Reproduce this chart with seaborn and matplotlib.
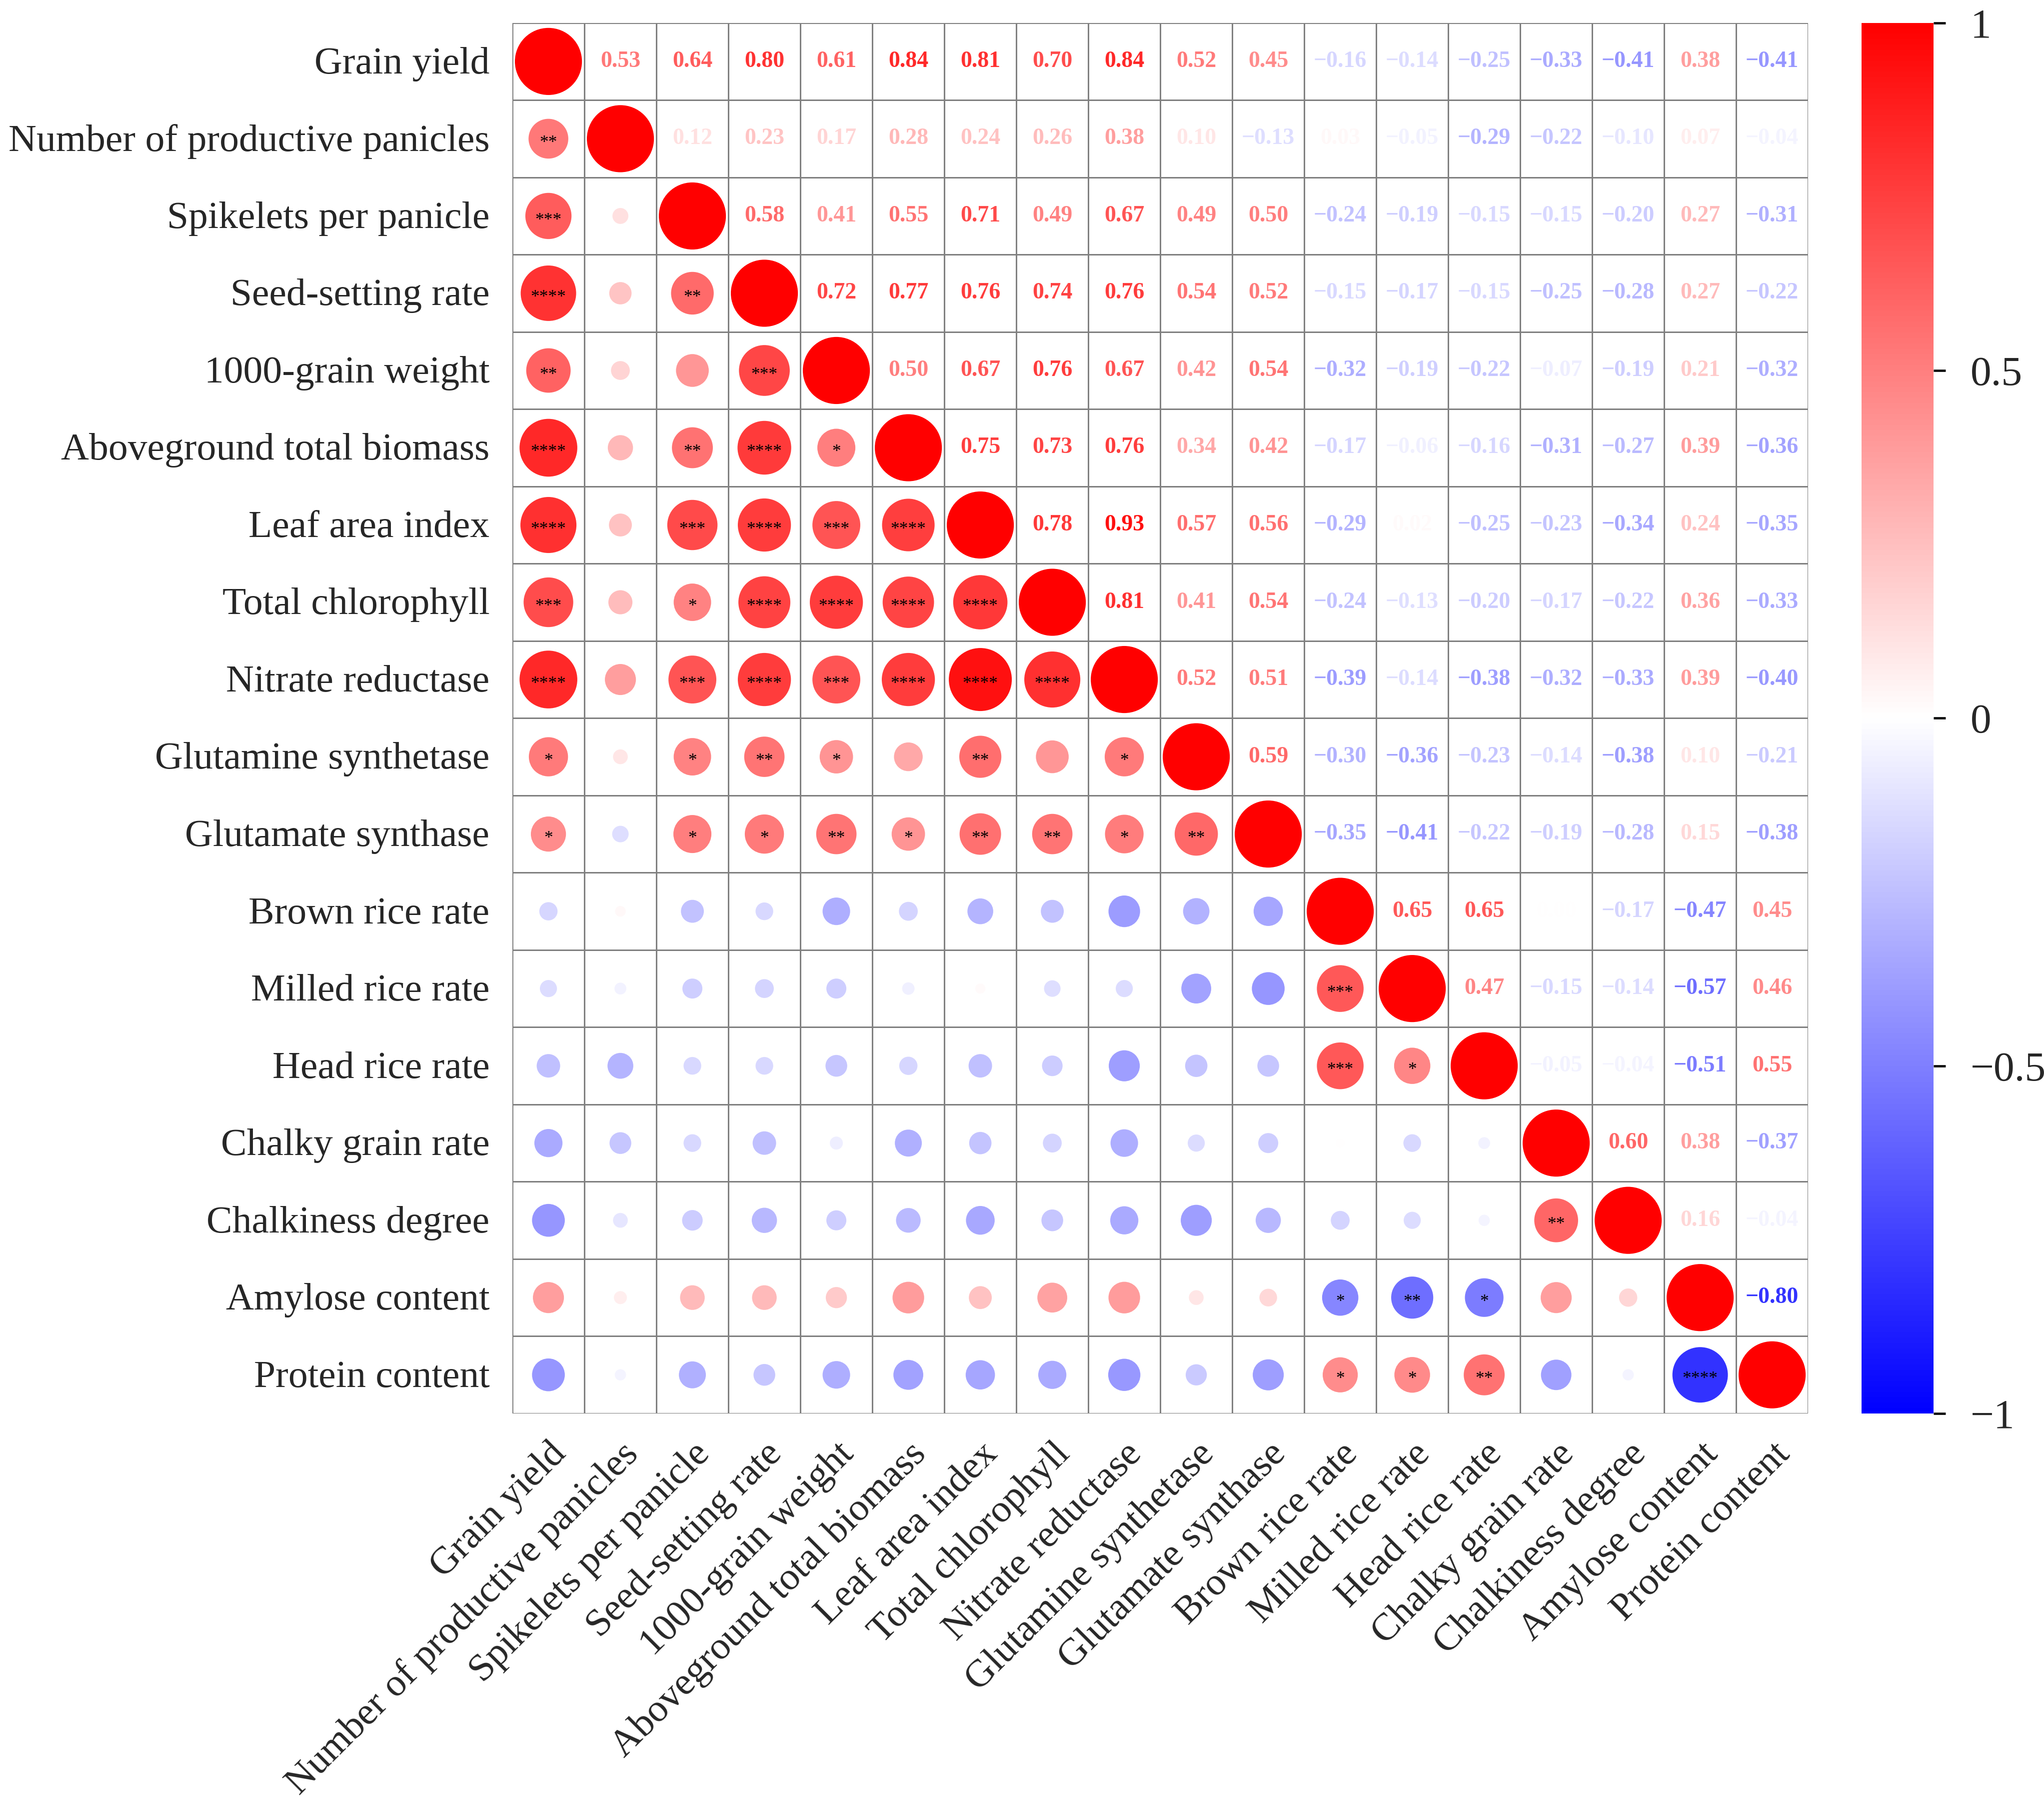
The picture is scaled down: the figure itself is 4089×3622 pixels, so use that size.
import numpy as np
import pandas as pd
import matplotlib
matplotlib.use("Agg")
import matplotlib.pyplot as plt
import seaborn as sns
from matplotlib.colors import Normalize, ListedColormap
from matplotlib.cm import ScalarMappable
from matplotlib.transforms import ScaledTranslation

# ----------------------------------
# Traits (row / column order)
# ----------------------------------
traits = [
    "Grain yield", "Number of productive panicles", "Spikelets per panicle",
    "Seed-setting rate", "1000-grain weight", "Aboveground total biomass",
    "Leaf area index", "Total chlorophyll", "Nitrate reductase",
    "Glutamine synthetase", "Glutamate synthase", "Brown rice rate",
    "Milled rice rate", "Head rice rate", "Chalky grain rate",
    "Chalkiness degree", "Amylose content", "Protein content",
]

# ----------------------------------
# Pearson r, each list = correlations with the traits to its right
# ----------------------------------
r_grain_yield = [0.53, 0.64, 0.80, 0.61, 0.84, 0.81, 0.70, 0.84, 0.52, 0.45,
                 -0.16, -0.14, -0.25, -0.33, -0.41, 0.38, -0.41]
r_productive_panicles = [0.12, 0.23, 0.17, 0.28, 0.24, 0.26, 0.38, 0.10, -0.13,
                         0.03, -0.05, -0.29, -0.22, -0.10, 0.07, -0.04]
r_spikelets = [0.58, 0.41, 0.55, 0.71, 0.49, 0.67, 0.49, 0.50,
               -0.24, -0.19, -0.15, -0.15, -0.20, 0.27, -0.31]
r_seed_setting = [0.72, 0.77, 0.76, 0.74, 0.76, 0.54, 0.52,
                  -0.15, -0.17, -0.15, -0.25, -0.28, 0.27, -0.22]
r_grain_weight = [0.50, 0.67, 0.76, 0.67, 0.42, 0.54,
                  -0.32, -0.19, -0.22, -0.07, -0.19, 0.21, -0.32]
r_biomass = [0.75, 0.73, 0.76, 0.34, 0.42,
             -0.17, -0.06, -0.16, -0.31, -0.27, 0.39, -0.36]
r_leaf_area = [0.78, 0.93, 0.57, 0.56, -0.29, 0.02, -0.25, -0.23, -0.34, 0.24, -0.35]
r_chlorophyll = [0.81, 0.41, 0.54, -0.24, -0.13, -0.20, -0.17, -0.22, 0.36, -0.33]
r_nitrate_red = [0.52, 0.51, -0.39, -0.14, -0.38, -0.32, -0.33, 0.39, -0.40]
r_gs = [0.59, -0.30, -0.36, -0.23, -0.14, -0.38, 0.10, -0.21]
r_gogat = [-0.35, -0.41, -0.22, -0.19, -0.28, 0.15, -0.38]
r_brown_rice = [0.65, 0.65, 0.00, -0.17, -0.47, 0.45]
r_milled_rice = [0.47, -0.15, -0.14, -0.57, 0.46]
r_head_rice = [-0.05, -0.04, -0.51, 0.55]
r_chalky_rate = [0.60, 0.38, -0.37]
r_chalkiness = [0.16, -0.04]
r_amylose = [-0.80]

upper_rows = [
    r_grain_yield, r_productive_panicles, r_spikelets, r_seed_setting,
    r_grain_weight, r_biomass, r_leaf_area, r_chlorophyll, r_nitrate_red,
    r_gs, r_gogat, r_brown_rice, r_milled_rice, r_head_rice,
    r_chalky_rate, r_chalkiness, r_amylose,
]

# significance cut-offs on |r| (* p<0.05, ** p<0.01, *** p<0.001, **** p<0.0001)
star_cuts = [0.415, 0.525, 0.64, 0.725]

n = len(traits)
corr = np.eye(n)
for i, row in enumerate(upper_rows):
    for k, v in enumerate(row):
        corr[i, i + 1 + k] = v
        corr[i + 1 + k, i] = v


def stars(r):
    return "*" * sum(abs(r) >= c for c in star_cuts)


# ----------------------------------
# Style
# ----------------------------------
sns.set_theme(style="white")
plt.rcParams["font.family"] = ["Liberation Serif", "DejaVu Serif"]
plt.rcParams["axes.unicode_minus"] = True

cmap = plt.get_cmap("bwr")
norm = Normalize(-1, 1)

fig = plt.figure(figsize=(4089 / 300, 3622 / 300), dpi=300)
ax = fig.add_axes([0.2507, 0.2195, 0.6339, 0.7679])
cax = fig.add_axes([0.9107, 0.2195, 0.0352, 0.7679])

# white grid of cells
sns.heatmap(np.zeros((n, n)), ax=ax, cmap=ListedColormap(["white"]), cbar=False,
            linewidths=0.3, linecolor="#808080",
            xticklabels=traits, yticklabels=traits)

# ----------------------------------
# Lower triangle: circles sized by |r|
# ----------------------------------
recs = []
for i in range(n):
    for j in range(i + 1):
        d_pt = 4.3 + 27.9 * abs(corr[i, j])
        recs.append({"x": j + 0.5, "y": i + 0.5, "r": corr[i, j], "s": d_pt ** 2})
circ = pd.DataFrame(recs)
smin, smax = circ["s"].min(), circ["s"].max()
sns.scatterplot(data=circ, x="x", y="y", hue="r", palette="bwr", hue_norm=(-1, 1),
                size="s", sizes=(smin, smax), size_norm=(smin, smax),
                linewidth=0, legend=False, ax=ax, zorder=3)

for i in range(n):
    for j in range(i):
        lab = stars(corr[i, j])
        if lab:
            ax.text(j + 0.5, i + 0.56, lab, ha="center", va="center",
                    fontsize=8.5, color="black", zorder=4)

# ----------------------------------
# Upper triangle: coefficients
# ----------------------------------
for i in range(n):
    for j in range(i + 1, n):
        v = corr[i, j]
        ax.text(j + 0.5, i + 0.5, f"{v:.2f}".replace("-", "\u2212"),
                ha="center", va="center", fontsize=11, fontweight="bold",
                color=cmap(norm(v)), zorder=4)

ax.set_xlim(0, n)
ax.set_ylim(n, 0)
ax.set_xlabel("")
ax.set_ylabel("")
ax.tick_params(length=0, pad=11, labelsize=18.6)
ax.set_yticklabels(traits, rotation=0, va="center")
ax.set_xticklabels(traits, rotation=45, ha="right", va="top", rotation_mode="anchor")

# nudge row labels down a touch
shift = ScaledTranslation(0, -1.3 / 72, fig.dpi_scale_trans)
for lab in ax.get_yticklabels():
    lab.set_transform(lab.get_transform() + shift)

# ----------------------------------
# Colour bar
# ----------------------------------
cb = fig.colorbar(ScalarMappable(norm=norm, cmap=cmap), cax=cax, ticks=[-1, -0.5, 0, 0.5, 1])
cb.set_ticklabels(["\u22121", "\u22120.5", "0", "0.5", "1"])
cb.outline.set_visible(False)
cax.tick_params(length=5.8, width=1.1, pad=12, labelsize=20, color="black")

fig.savefig("out.png", dpi=300)
